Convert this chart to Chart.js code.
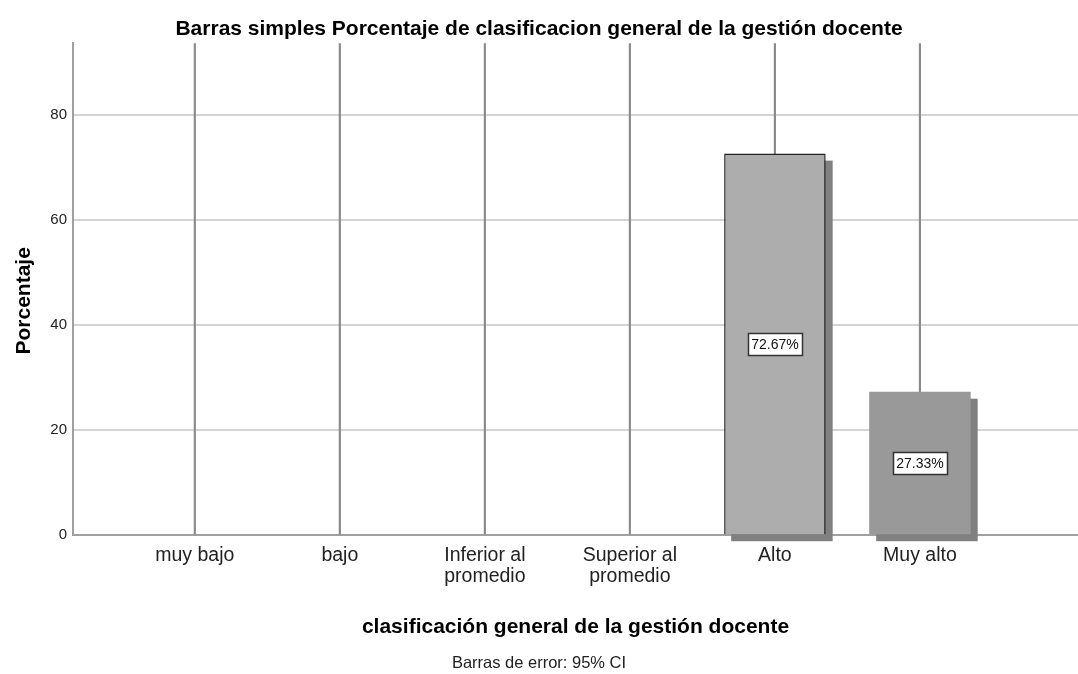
<!DOCTYPE html>
<html>
<head>
<meta charset="utf-8">
<script src="https://cdn.jsdelivr.net/npm/chart.js@4.4.0/dist/chart.umd.min.js"></script>
<style>
  html, body { margin: 0; padding: 0; background: #ffffff; }
  #wrap { width: 1078px; height: 674px; position: relative; }
</style>
</head>
<body>
<div id="wrap"><canvas id="c" width="1078" height="674"></canvas></div>
<script>
// ---- data ----
const categories = [
  'muy bajo',
  'bajo',
  ['Inferior al', 'promedio'],
  ['Superior al', 'promedio'],
  'Alto',
  'Muy alto'
];
const percentages = [0, 0, 0, 0, 72.67, 27.33];
const ciLower = [0, 0, 0, 0, 55, 12];
const ciUpper = [100, 100, 100, 100, 100, 100];
const yTicks = [0, 20, 40, 60, 80];

const titleText = 'Barras simples Porcentaje de clasificacion general de la gestión docente';
const xTitle = 'clasificación general de la gestión docente';
const yTitle = 'Porcentaje';
const footText = 'Barras de error: 95% CI';

const FONT = "'Liberation Sans', Arial, sans-serif";

const barData = percentages.map((v, i) => ({ x: i, y: v }));
const errData = ciLower.map((lo, i) => ({ x: i, y: [lo, ciUpper[i]] }));

const shadowPlugin = {
  id: 'barShadow',
  beforeDatasetDraw(chart, args) {
    if (args.index !== 0) return;
    const meta = chart.getDatasetMeta(0);
    const ctx = chart.ctx;
    ctx.save();
    ctx.fillStyle = '#808080';
    meta.data.forEach((el, i) => {
      if (!percentages[i]) return;
      const p = el.getProps(['x', 'y', 'base', 'width'], true);
      ctx.fillRect(p.x - p.width / 2 + 7, p.y + 7, p.width, p.base - p.y);
    });
    ctx.restore();
  }
};

const labelPlugin = {
  id: 'valueBoxes',
  afterDatasetsDraw(chart) {
    const meta = chart.getDatasetMeta(0);
    const ctx = chart.ctx;
    ctx.save();
    ctx.font = '14px ' + FONT;
    ctx.textAlign = 'center';
    ctx.textBaseline = 'middle';
    meta.data.forEach((el, i) => {
      const v = percentages[i];
      if (!v) return;
      const p = el.getProps(['x', 'y', 'base'], true);
      const cy = (p.y + p.base) / 2;
      const txt = v.toFixed(2) + '%';
      const w = Math.round(ctx.measureText(txt).width + 7);
      const h = 22;
      const bx = Math.round(p.x - w / 2) + 0.5, by = Math.round(cy - h / 2) + 0.5;
      ctx.fillStyle = '#ffffff';
      ctx.fillRect(bx, by, w, h);
      ctx.strokeStyle = '#333333';
      ctx.lineWidth = 1.5;
      ctx.strokeRect(bx, by, w, h);
      ctx.fillStyle = '#111111';
      ctx.fillText(txt, p.x, cy + 1);
    });
    ctx.restore();
  }
};

new Chart(document.getElementById('c'), {
  type: 'bar',
  data: {
    datasets: [
      {
        data: barData,
        backgroundColor: ['#adadad', '#adadad', '#adadad', '#adadad', '#adadad', '#999999'],
        borderColor: ['#222', '#222', '#222', '#222', '#222', '#999999'],
        borderWidth: [1.5, 1.5, 1.5, 1.5, 1.5, 0],
        categoryPercentage: 0.7,
        barPercentage: 1,
        grouped: false,
        order: 1
      },
      {
        data: errData,
        backgroundColor: '#8a8a8a',
        borderWidth: 0,
        barThickness: 1.5,
        grouped: false,
        order: 2
      }
    ]
  },
  options: {
    responsive: false,
    animation: false,
    layout: { padding: 0 },
    plugins: {
      legend: { display: false },
      tooltip: { enabled: false },
      title: {
        display: true,
        text: titleText,
        color: '#000',
        font: { family: FONT, size: 21, weight: 'bold', lineHeight: 1.2 },
        padding: { top: 17, bottom: 1 }
      },
      subtitle: {
        display: true,
        position: 'bottom',
        text: footText,
        color: '#222',
        font: { family: FONT, size: 16.5, weight: 'normal', lineHeight: 1.2 },
        padding: { top: 2, bottom: 1 }
      }
    },
    scales: {
      x: {
        type: 'linear',
        min: -0.84,
        max: 6.09,
        offset: false,
        afterBuildTicks(scale) {
          scale.ticks = categories.map((c, i) => ({ value: i }));
        },
        afterFit(scale) { scale.height = 116; },
        ticks: {
          autoSkip: false,
          maxRotation: 0,
          padding: 10,
          color: '#222',
          font: { family: FONT, size: 19.5, lineHeight: 1.08 },
          callback: (v) => categories[v]
        },
        grid: { display: false, drawTicks: false },
        border: { display: true, color: '#a0a0a0', width: 2 },
        title: {
          display: true,
          text: xTitle,
          color: '#000',
          font: { family: FONT, size: 21, weight: 'bold', lineHeight: 1.2 },
          padding: { top: 0, bottom: 11 }
        }
      },
      y: {
        type: 'linear',
        min: 0,
        max: 93.7,
        afterBuildTicks(scale) {
          scale.ticks = yTicks.map(v => ({ value: v }));
        },
        afterFit(scale) { scale.width = 73; },
        ticks: {
          padding: 6,
          color: '#222',
          font: { family: FONT, size: 15 }
        },
        grid: { color: '#d4d4d4', lineWidth: 2, drawTicks: false },
        border: { display: true, color: '#a0a0a0', width: 2 },
        title: {
          display: true,
          text: yTitle + '\u00A0\u00A0\u00A0\u00A0',
          color: '#000',
          font: { family: FONT, size: 21, weight: 'bold', lineHeight: 1.2 },
          padding: { top: 12, bottom: 0 }
        }
      }
    }
  },
  plugins: [shadowPlugin, labelPlugin]
});
</script>
</body>
</html>
